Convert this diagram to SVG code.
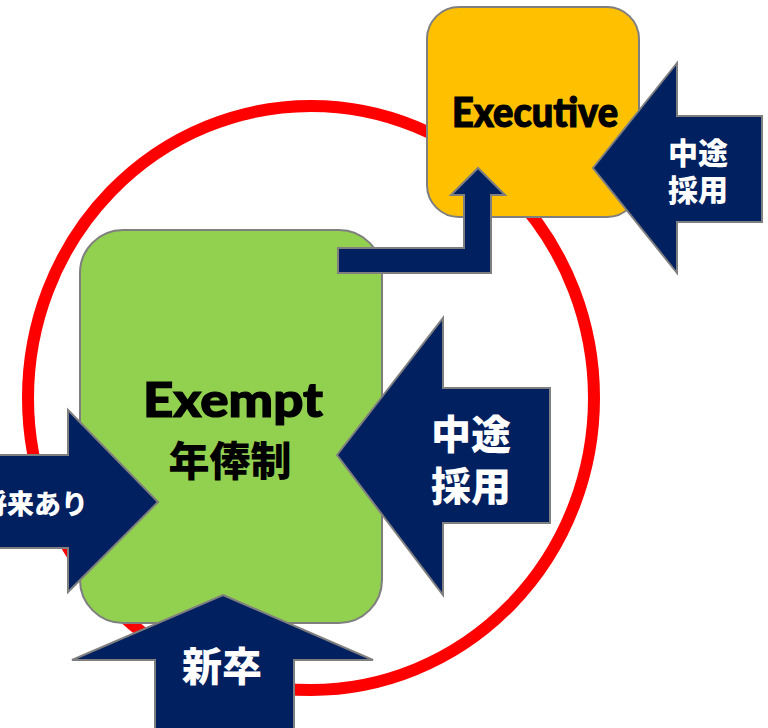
<svg xmlns="http://www.w3.org/2000/svg" width="768" height="728" viewBox="0 0 768 728">
<style>
.box{stroke:#7f7f7f;stroke-width:2}
.arr{fill:#002060;stroke:#7f7f7f;stroke-width:2;stroke-linejoin:miter}
.lat{font-family:Lato,"Liberation Sans",sans-serif;font-weight:900;fill:#000;stroke:#000;stroke-width:1.2;text-anchor:middle}
.cjk{font-family:"Noto Sans CJK JP","Noto Sans CJK SC",sans-serif;font-weight:900;text-anchor:middle}
.w{fill:#fff}
.b{fill:#000}
</style>
<rect width="768" height="728" fill="#fff"/>
<g id="cycle">
<ellipse cx="311" cy="398" rx="283" ry="292" fill="none" stroke="#ff0000" stroke-width="12"/>
</g>
<g id="exempt">
<rect class="box" x="80" y="230" width="302" height="393" rx="43" fill="#92d050"/>
<text class="lat" x="233" y="417" font-size="47" textLength="180" lengthAdjust="spacingAndGlyphs">Exempt</text>
<text class="cjk b" x="230" y="476" font-size="41">年俸制</text>
</g>
<g id="executive">
<rect class="box" x="427" y="7" width="212" height="210" rx="32" fill="#ffc000"/>
<text class="lat" x="535" y="127" font-size="41" textLength="166" lengthAdjust="spacingAndGlyphs">Executive</text>
</g>
<g id="connectors">
<g id="promote">
<path class="arr" d="M338,248 L464,248 L464,195 L451,195 L478,168 L505,195 L491,195 L491,273 L338,273 Z"/>
</g>
<g id="mid-career-exec">
<path class="arr" d="M593,168 L677,63 L677,116 L762,116 L762,222 L677,222 L677,273 Z"/>
<text class="cjk w" x="698" y="164" font-size="30">中途</text>
<text class="cjk w" x="698" y="201" font-size="30">採用</text>
</g>
<g id="mid-career-exempt">
<path class="arr" d="M337,455 L443,318 L443,388 L550,388 L550,523 L443,523 L443,595 Z"/>
<text class="cjk w" x="471" y="449" font-size="40">中途</text>
<text class="cjk w" x="471" y="501" font-size="40">採用</text>
</g>
<g id="future">
<path class="arr" d="M-5,455 L68,455 L68,410 L158,502 L68,592 L68,548 L-5,548 Z"/>
<text class="cjk w" x="34" y="514" font-size="27">将来あり</text>
</g>
<g id="new-grad">
<path class="arr" d="M223,595 L373,660 L294,660 L294,740 L155,740 L155,660 L72,660 Z" stroke-width="5"/>
<text class="cjk w" x="222" y="681" font-size="40">新卒</text>
</g>
</g>
</svg>
